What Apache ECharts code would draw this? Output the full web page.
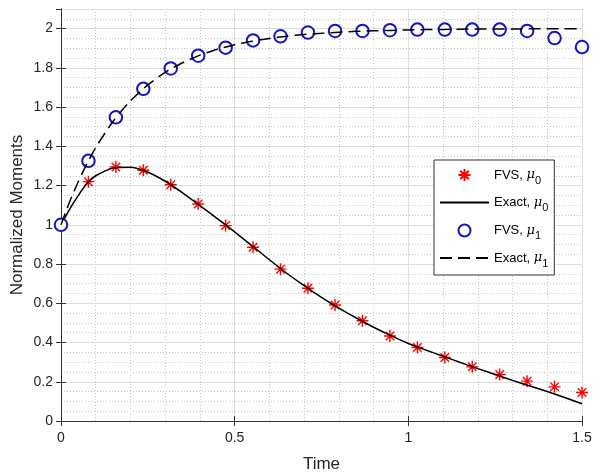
<!DOCTYPE html>
<html><head><meta charset="utf-8">
<script src="https://cdn.jsdelivr.net/npm/echarts@6/dist/echarts.min.js"></script>
<style>html,body{margin:0;padding:0;background:#fff}#c{width:593px;height:473px}</style>
</head><body><div id="c"></div>
<script>
// ---- data ----
const fvsTime = [0, 0.079, 0.158, 0.237, 0.316, 0.395, 0.474, 0.553, 0.632, 0.711, 0.789, 0.868, 0.947, 1.026, 1.105, 1.184, 1.263, 1.342, 1.421, 1.5];
const fvsMu0 = [1.0, 1.22, 1.295, 1.278, 1.204, 1.106, 0.996, 0.886, 0.774, 0.677, 0.591, 0.511, 0.433, 0.375, 0.324, 0.276, 0.237, 0.203, 0.174, 0.145];
const fvsMu1 = [1.0, 1.326, 1.548, 1.693, 1.797, 1.862, 1.903, 1.94, 1.961, 1.98, 1.988, 1.988, 1.992, 1.995, 1.995, 1.995, 1.995, 1.988, 1.952, 1.906];
const exactTime = [0, 0.025, 0.05, 0.075, 0.1, 0.15, 0.2, 0.25, 0.3, 0.35, 0.4, 0.45, 0.5, 0.55, 0.6, 0.65, 0.7, 0.75, 0.8, 0.85, 0.9, 0.95, 1.0, 1.05, 1.1, 1.15, 1.2, 1.25, 1.3, 1.35, 1.4, 1.45, 1.5];
const exactMu0 = [1.0, 1.08, 1.15, 1.21, 1.25, 1.29, 1.293, 1.268, 1.222, 1.163, 1.098, 1.032, 0.964, 0.893, 0.822, 0.753, 0.69, 0.63, 0.575, 0.525, 0.478, 0.435, 0.395, 0.362, 0.33, 0.298, 0.267, 0.237, 0.207, 0.178, 0.15, 0.12, 0.088];
const exactMu1 = [1.0, 1.118, 1.221, 1.313, 1.394, 1.528, 1.632, 1.713, 1.777, 1.826, 1.865, 1.895, 1.918, 1.936, 1.95, 1.961, 1.97, 1.976, 1.982, 1.986, 1.989, 1.991, 1.993, 1.995, 1.996, 1.997, 1.998, 1.998, 1.998, 1.999, 1.999, 1.999, 1.999];
const xTicks = [0, 0.5, 1, 1.5];
const seriesNames = ['FVS, μ0', 'Exact, μ0', 'FVS, μ1', 'Exact, μ1'];
const xName = 'Time';
const yName = 'Normalized Moments';

// ---- styling ----
const FONT = 'Liberation Sans, Arial, sans-serif';
const AX = '#333333';
const TXT = '#262626';
const BLUE = '#1414c8';
const STAR = 'path://M0,-10L0,10M-10,0L10,0M-7.07,-7.07L7.07,7.07M-7.07,7.07L7.07,-7.07';
const CLEAR = 'rgba(0,0,0,0)';
const DASH = [12, 6];

const chart = echarts.init(document.getElementById('c'), null, {renderer: 'canvas'});
const pairs = (xs, ys) => xs.map((x, i) => [x, ys[i]]);

const option = {
  animation: false,
  backgroundColor: '#fff',
  grid: {left: 61, right: 11, top: 9, bottom: 52, containLabel: false, outerBoundsMode: 'none'},
  xAxis: [
    {
      type: 'value', min: 0, max: 1.5, interval: 0.5, position: 'bottom',
      name: xName, nameLocation: 'middle', nameGap: 35,
      nameTextStyle: {fontSize: 17, color: TXT, fontFamily: FONT},
      axisLine: {show: true, lineStyle: {color: AX, width: 1}},
      axisTick: {show: true, inside: true, length: 5, lineStyle: {color: AX}},
      axisLabel: {fontSize: 14, color: TXT, fontFamily: FONT, margin: 10,
        formatter: v => xTicks.includes(+v.toFixed(3)) ? String(+v.toFixed(3)) : ''},
      splitLine: {show: true, lineStyle: {color: '#dedede', width: 1}},
      z: 3
    },
    {
      type: 'value', min: 0, max: 1.5, interval: 0.5, position: 'top',
      axisLine: {show: true, lineStyle: {color: AX, width: 1}},
      axisTick: {show: true, inside: true, length: 5, lineStyle: {color: AX}},
      axisLabel: {show: false}, splitLine: {show: false}, z: 3
    },
    {
      type: 'value', min: 0, max: 1.5, interval: 0.1, position: 'bottom', offset: 0,
      axisLine: {show: false}, axisTick: {show: false}, axisLabel: {show: false},
      splitLine: {show: true, lineStyle: {color: [CLEAR, '#c4c4c4', '#c4c4c4', '#c4c4c4', '#c4c4c4'], type: [1, 2], width: 1}},
      z: 1
    }
  ],
  yAxis: [
    {
      type: 'value', min: 0, max: 2.1, interval: 0.2, position: 'left',
      name: yName, nameLocation: 'middle', nameGap: 35, nameMoveOverlap: false,
      nameTextStyle: {fontSize: 17, color: TXT, fontFamily: FONT},
      axisLine: {show: true, lineStyle: {color: AX, width: 1}},
      axisTick: {show: true, inside: true, length: 5, lineStyle: {color: AX}},
      axisLabel: {fontSize: 14, color: TXT, fontFamily: FONT, margin: 8, showMaxLabel: false,
        formatter: v => String(+v.toFixed(2))},
      splitLine: {show: true, lineStyle: {color: '#dedede', width: 1}},
      z: 3
    },
    {
      type: 'value', min: 0, max: 2.1, interval: 0.2, position: 'right',
      axisLine: {show: true, lineStyle: {color: AX, width: 1}},
      axisTick: {show: true, inside: true, length: 5, lineStyle: {color: AX}},
      axisLabel: {show: false}, splitLine: {show: false}, z: 3
    },
    {
      type: 'value', min: 0, max: 2.1, interval: 0.05, position: 'left',
      axisLine: {show: false}, axisTick: {show: false}, axisLabel: {show: false},
      splitLine: {show: true, lineStyle: {color: [CLEAR, '#c4c4c4', '#c4c4c4', '#c4c4c4'], type: [1, 2], width: 1}},
      z: 1
    }
  ],
  legend: {
    left: 434, top: 160, orient: 'vertical',
    data: seriesNames,
    padding: [8, 6, 6, 5], itemGap: 10, itemWidth: 49, itemHeight: 12,
    backgroundColor: '#fff', borderColor: AX, borderWidth: 1, borderRadius: 0,
    formatter: name => {
      const m = name.match(/^(.*), μ(\d)$/);
      return '{t|' + m[1] + ', }{m|μ}{s|' + m[2] + '}';
    },
    textStyle: {
      rich: {
        t: {fontSize: 13, color: '#000', fontFamily: FONT, lineHeight: 14, verticalAlign: 'middle'},
        m: {fontSize: 13, color: '#000', fontFamily: 'DejaVu Serif, serif', fontStyle: 'italic', lineHeight: 14, verticalAlign: 'middle'},
        s: {fontSize: 11, color: '#000', fontFamily: FONT, lineHeight: 22, verticalAlign: 'bottom'}
      }
    },
    z: 10
  },
  series: [
    {
      name: seriesNames[0], type: 'scatter', xAxisIndex: 0, yAxisIndex: 0,
      data: pairs(fvsTime, fvsMu0), symbol: STAR, symbolSize: 12,
      itemStyle: {color: CLEAR, borderColor: '#ff0000', borderWidth: 1.4, opacity: 1},
      z: 4
    },
    {
      name: seriesNames[1], type: 'line', xAxisIndex: 0, yAxisIndex: 0,
      data: pairs(exactTime, exactMu0), symbol: 'circle', showSymbol: false, smooth: 0.2,
      lineStyle: {color: '#000', width: 1.5, type: 'solid'},
      itemStyle: {color: CLEAR, borderColor: CLEAR, borderWidth: 0},
      z: 5
    },
    {
      name: seriesNames[2], type: 'scatter', xAxisIndex: 0, yAxisIndex: 0,
      data: pairs(fvsTime, fvsMu1), symbol: 'emptyCircle', symbolSize: 12.5,
      itemStyle: {color: BLUE, borderColor: BLUE, borderWidth: 1.5, opacity: 1},
      z: 6
    },
    {
      name: seriesNames[3], type: 'line', xAxisIndex: 0, yAxisIndex: 0,
      data: pairs(exactTime, exactMu1), symbol: 'circle', showSymbol: false, smooth: 0.2,
      lineStyle: {color: '#000', width: 1.5, type: DASH},
      itemStyle: {color: CLEAR, borderColor: CLEAR, borderWidth: 0},
      z: 7
    }
  ]
};
chart.setOption(option);
</script>
</body></html>
